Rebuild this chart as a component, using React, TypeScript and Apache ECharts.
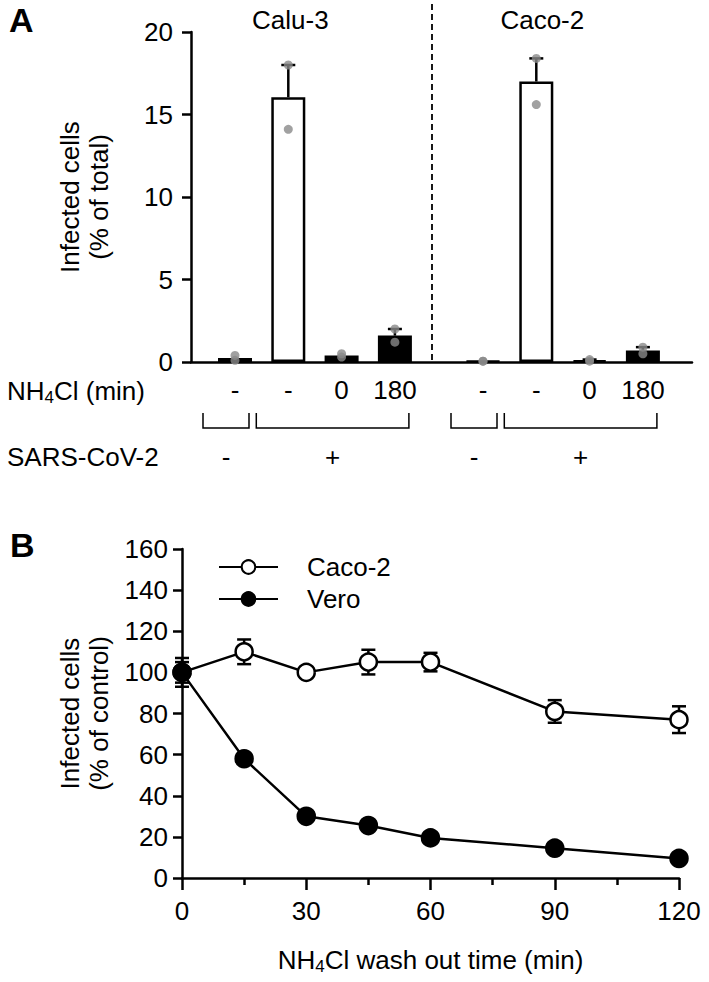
import React, { useEffect, useRef } from 'react';
import * as echarts from 'echarts';

const FONT = "'Liberation Sans', Arial, Helvetica, sans-serif";
const FS = 26;

// ---------- Panel A data ----------
const cellLines = ['Calu-3', 'Caco-2'];
const nh4clLabels = ['-', '-', '0', '180'];
const virusLabels = ['-', '+', '+', '+'];
const calu3Mean = [0.25, 16.05, 0.4, 1.6];
const calu3Sem = [0, 1.95, 0, 0.4];
const calu3Rep1 = [0.4, 18.0, 0.5, 2.0];
const calu3Rep2 = [0.1, 14.1, 0.3, 1.2];
const caco2Mean = [0.05, 17.0, 0.1, 0.7];
const caco2Sem = [0, 1.4, 0.05, 0.2];
const caco2Rep1 = [0.05, 18.4, 0.15, 0.9];
const caco2Rep2 = [0.05, 15.6, 0.05, 0.5];
const yTicksA = { min: 0, max: 20, interval: 5 };

// ---------- Panel B data ----------
const washTimes = [0, 15, 30, 45, 60, 90, 120];
const caco2Wash = [100, 110, 100, 105, 105, 81, 77];
const caco2WashErr = [5, 6, 2, 6, 4.5, 5.5, 6.5];
const veroWash = [100, 58, 30, 25.5, 19.5, 14.5, 9.5];
const veroWashErr = [7, 2, 2, 2, 2, 2, 2];
const yTicksB = { min: 0, max: 160, interval: 20 };
const xTicksB = { min: 0, max: 120, interval: 30 };

// ---------- layout ----------
const W = 709, H = 982;
const A_TOP = 32, A_ZERO = 362;
const A_AXIS_X = 191, A_AXIS_END = 692;
const SLOT = 53.3;
const GROUP_FIRST = [235, 483];
const SEP_X = 432;
const B_LEFT = 182, B_RIGHT = 30, B_TOP = 549, B_ZERO = 878;

const black = '#000';

function errRender(sym: boolean, hw: number) {
  return (params: any, api: any) => {
    const x = api.value(0), m = api.value(1), s = api.value(2);
    if (!s) return { type: 'group', children: [] };
    const top = api.coord([x, m + s]);
    const bot = api.coord([x, sym ? m - s : m]);
    const st = { stroke: black, lineWidth: 2.5 };
    const children: any[] = [
      { type: 'line', shape: { x1: top[0], y1: top[1], x2: bot[0], y2: bot[1] }, style: st },
      { type: 'line', shape: { x1: top[0] - hw, y1: top[1], x2: top[0] + hw, y2: top[1] }, style: st },
    ];
    if (sym) children.push({ type: 'line', shape: { x1: bot[0] - hw, y1: bot[1], x2: bot[0] + hw, y2: bot[1] }, style: st });
    return { type: 'group', children };
  };
}

export default function App() {
  const ref = useRef<HTMLDivElement>(null);
  useEffect(() => {
    if (!ref.current) return;
    const chart = echarts.init(ref.current, null, { renderer: 'svg' });
    const groups = [
      { mean: calu3Mean, sem: calu3Sem, r1: calu3Rep1, r2: calu3Rep2 },
      { mean: caco2Mean, sem: caco2Sem, r1: caco2Rep1, r2: caco2Rep2 },
    ];
    const grids: any[] = [];
    const xAxes: any[] = [];
    const yAxes: any[] = [];
    const series: any[] = [];
    groups.forEach((g, gi) => {
      grids.push({ left: GROUP_FIRST[gi] - SLOT / 2, width: SLOT * 4, top: A_TOP, height: A_ZERO - A_TOP });
      xAxes.push({
        type: 'category', gridIndex: gi, data: nh4clLabels.map((_, i) => 'c' + i),
        axisLine: { show: false }, axisTick: { show: false },
        axisLabel: {
          interval: 0, hideOverlap: false,
          formatter: (_v: string, i: number) => nh4clLabels[i], fontSize: FS, fontFamily: FONT, color: black, margin: 15,
        },
      });
      yAxes.push({ type: 'value', gridIndex: gi, ...yTicksA, show: false, splitLine: { show: false } });
      series.push({
        type: 'bar', xAxisIndex: gi, yAxisIndex: gi, barWidth: 34, z: 2,
        data: g.mean.map((v, i) => ({
          value: v,
          itemStyle: {
            color: nh4clLabels[i] === '-' && virusLabels[i] === '+' ? '#fff' : black,
            borderColor: black, borderWidth: 2.5,
          },
        })),
      });
      series.push({
        type: 'custom', xAxisIndex: gi, yAxisIndex: gi, z: 3,
        encode: { x: 0, y: 1 },
        renderItem: errRender(false, 7),
        data: g.mean.map((v, i) => [i, v, g.sem[i]]),
      });
      series.push({
        type: 'scatter', xAxisIndex: gi, yAxisIndex: gi, z: 4, symbolSize: 9,
        itemStyle: { color: '#8a8a8a' },
        data: [...g.r1.map((v, i) => [i, v]), ...g.r2.map((v, i) => [i, v])],
      });
    });
    // baseline + visible y axis for panel A
    grids.push({ left: A_AXIS_X, width: A_AXIS_END - A_AXIS_X, top: A_TOP, height: A_ZERO - A_TOP });
    xAxes.push({
      type: 'value', gridIndex: 2, min: 0, max: 1,
      axisLine: { show: true, lineStyle: { color: black, width: 2.5 } },
      axisTick: { show: false }, axisLabel: { show: false }, splitLine: { show: false },
    });
    yAxes.push({
      type: 'value', gridIndex: 2, ...yTicksA,
      axisLine: { show: true, lineStyle: { color: black, width: 2.5 } },
      axisTick: { show: true, length: 9, lineStyle: { color: black, width: 2.5 } },
      axisLabel: { fontSize: FS, fontFamily: FONT, color: black, margin: 18 },
      splitLine: { show: false },
    });
    // panel B
    grids.push({ left: B_LEFT, right: B_RIGHT, top: B_TOP, bottom: H - B_ZERO });
    xAxes.push({
      type: 'value', gridIndex: 3, ...xTicksB, offset: 4,
      axisLine: { show: true, lineStyle: { color: black, width: 2.5 } },
      axisTick: { show: true, length: 12, lineStyle: { color: black, width: 2.5 } },
      minorTick: { show: true, splitNumber: 2, length: 7, lineStyle: { color: black, width: 2.5 } },
      axisLabel: { fontSize: FS, fontFamily: FONT, color: black, margin: 16 },
      splitLine: { show: false }, minorSplitLine: { show: false },
    });
    yAxes.push({
      type: 'value', gridIndex: 3, ...yTicksB,
      axisLine: { show: true, lineStyle: { color: black, width: 2.5 } },
      axisTick: { show: true, length: 9, lineStyle: { color: black, width: 2.5 } },
      axisLabel: { fontSize: FS, fontFamily: FONT, color: black, margin: 14 },
      splitLine: { show: false },
    });
    const lines = [
      { name: 'Caco-2', mean: caco2Wash, err: caco2WashErr, fill: '#fff' },
      { name: 'Vero', mean: veroWash, err: veroWashErr, fill: black },
    ];
    lines.forEach((l) => {
      series.push({
        type: 'custom', name: l.name + ' err', xAxisIndex: 3, yAxisIndex: 3, z: 2,
        encode: { x: 0, y: 1 }, renderItem: errRender(true, 7),
        data: washTimes.map((t, i) => [t, l.mean[i], l.err[i]]),
      });
      series.push({
        type: 'line', name: l.name, xAxisIndex: 3, yAxisIndex: 3, z: 3,
        symbol: 'circle', symbolSize: 17,
        lineStyle: { color: black, width: 2.5 },
        itemStyle: { color: l.fill, borderColor: black, borderWidth: 2.5 },
        data: washTimes.map((t, i) => [t, l.mean[i]]),
      });
    });

    const bracketTop = 413, bracketBot = 428, bracketLeft = 32, bracketRight = 14;
    const groupBrackets: [number, number][] = [];
    const virusSigns: string[] = [];
    GROUP_FIRST.forEach((c0) => {
      let start = 0;
      for (let i = 1; i <= virusLabels.length; i++) {
        if (i === virusLabels.length || virusLabels[i] !== virusLabels[start]) {
          groupBrackets.push([c0 + start * SLOT - bracketLeft, c0 + (i - 1) * SLOT + bracketRight]);
          virusSigns.push(virusLabels[start]);
          start = i;
        }
      }
    });
    const txt = (x: number, y: number, text: string, extra: any = {}) => ({
      type: 'text', x, y,
      style: { text, fontSize: FS, fontFamily: FONT, fill: black, align: 'center', verticalAlign: 'middle', ...extra },
    });
    const rich = {
      a: { fontSize: FS, fontFamily: FONT, color: black },
      s: { fontSize: 17, fontFamily: FONT, color: black, padding: [13, 0, 0, 0] },
    };
    const graphic: any[] = [
      txt(9, 20, 'A', { align: 'left', fontSize: 34, fontWeight: 'bold' }),
      txt(10, 545, 'B', { align: 'left', fontSize: 34, fontWeight: 'bold' }),
      txt(GROUP_FIRST[0] + SLOT + 2, 20, cellLines[0]),
      txt(GROUP_FIRST[1] + SLOT + 6, 20, cellLines[1]),
      {
        type: 'line', shape: { x1: SEP_X, y1: 4, x2: SEP_X, y2: A_ZERO },
        style: { stroke: black, lineWidth: 1.8, lineDash: [6, 4] },
      },
      { ...txt(84, (A_TOP + A_ZERO) / 2, 'Infected cells\n(% of total)', { lineHeight: 29 }), rotation: Math.PI / 2 },
      { ...txt(84, (B_TOP + B_ZERO) / 2, 'Infected cells\n(% of control)', { lineHeight: 29 }), rotation: Math.PI / 2 },
      {
        type: 'text', x: 7, y: 391,
        style: { text: '{a|NH}{s|4}{a|Cl (min)}', rich, align: 'left', verticalAlign: 'middle' },
      },
      txt(7, 457, 'SARS-CoV-2', { align: 'left' }),
      {
        type: 'text', x: (B_LEFT + W - B_RIGHT) / 2, y: 960,
        style: { text: '{a|NH}{s|4}{a|Cl wash out time (min)}', rich, align: 'center', verticalAlign: 'middle' },
      },
    ];
    groupBrackets.forEach(([a, b], k) => {
      graphic.push({
        type: 'polyline',
        shape: { points: [[a, bracketTop], [a, bracketBot], [b, bracketBot], [b, bracketTop]] },
        style: { stroke: black, lineWidth: 1.5, fill: null },
      });
      graphic.push(txt((a + b) / 2, 457, virusSigns[k]));
    });

    chart.setOption({
      animation: false,
      backgroundColor: '#fff',
      textStyle: { fontFamily: FONT },
      grid: grids,
      xAxis: xAxes,
      yAxis: yAxes,
      legend: {
        data: ['Caco-2', 'Vero'], orient: 'vertical', left: 213, top: 549,
        itemWidth: 59, itemHeight: 17, itemGap: 6,
        textStyle: { fontSize: FS, fontFamily: FONT, color: black, padding: [0, 0, 0, 24] },
      },
      series,
      graphic,
    });
    return () => chart.dispose();
  }, []);
  return <div ref={ref} style={{ position: 'absolute', left: 0, top: 0, width: W, height: H, background: '#fff' }} />;
}
